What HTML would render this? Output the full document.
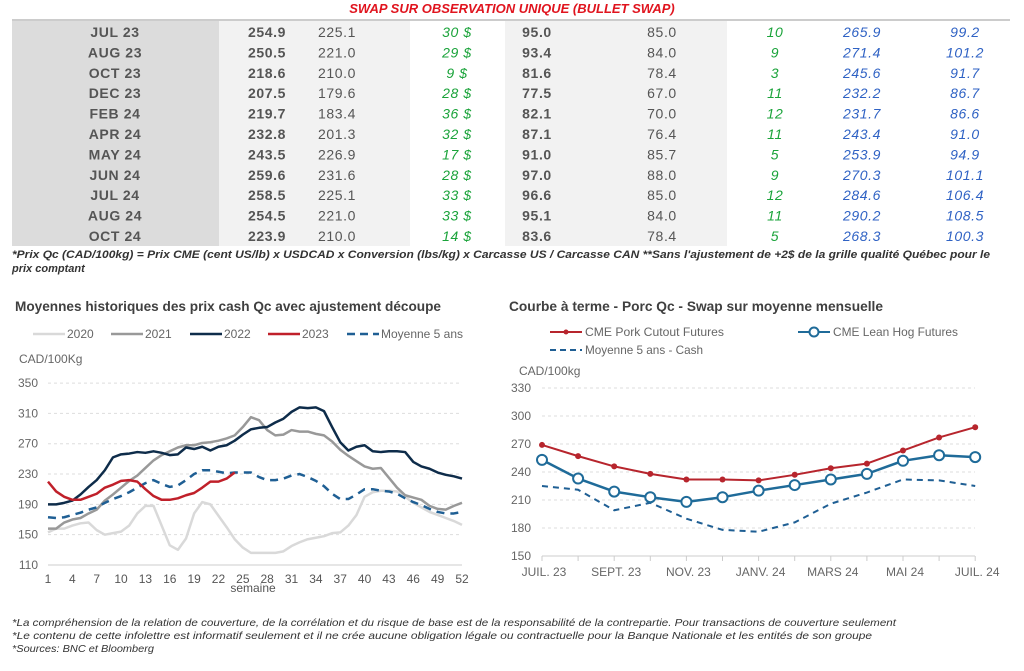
<!DOCTYPE html>
<html><head><meta charset="utf-8"><style>
html,body{margin:0;padding:0;background:#fff;}
svg{display:block;font-family:"Liberation Sans",sans-serif;}
</style></head><body>
<svg id="s" width="1024" height="671" viewBox="0 0 1024 671" xmlns="http://www.w3.org/2000/svg">
<text x="512" y="13" text-anchor="middle" fill="#e0141e" font-size="13" font-weight="bold" font-style="italic">SWAP SUR OBSERVATION UNIQUE (BULLET SWAP)</text>
<line x1="12" y1="20" x2="1010" y2="20" stroke="#bbb" stroke-width="1.5"/>
<rect x="12" y="21" width="207" height="225" fill="#dcdcdc"/>
<rect x="219" y="21" width="191" height="225" fill="#f2f2f2"/>
<rect x="505" y="21" width="222" height="225" fill="#f2f2f2"/>
<g id="tbl" font-size="14" letter-spacing="0.6"></g>
<text font-size="11" font-weight="bold" font-style="italic" fill="#333"><tspan x="12" y="258" textLength="978" lengthAdjust="spacingAndGlyphs">*Prix Qc (CAD/100kg) = Prix CME (cent US/lb) x USDCAD x Conversion (lbs/kg) x Carcasse US / Carcasse CAN **Sans l'ajustement de +2$ de la grille qualité Québec pour le</tspan><tspan x="12" y="272">prix comptant</tspan></text>

<text x="15" y="311" font-size="13.5" font-weight="bold" fill="#404040" textLength="426" lengthAdjust="spacingAndGlyphs">Moyennes historiques des prix cash Qc avec ajustement découpe</text>
<g font-size="12" fill="#666">
<line x1="33" y1="334" x2="65" y2="334" stroke="#d9d9d9" stroke-width="2.5"/><text x="67" y="338">2020</text>
<line x1="111" y1="334" x2="143" y2="334" stroke="#999" stroke-width="2.5"/><text x="145" y="338">2021</text>
<line x1="190" y1="334" x2="222" y2="334" stroke="#0e2c4a" stroke-width="2.5"/><text x="224" y="338">2022</text>
<line x1="268" y1="334" x2="300" y2="334" stroke="#c0202a" stroke-width="2.5"/><text x="302" y="338">2023</text>
<line x1="347" y1="334" x2="379" y2="334" stroke="#1f5f94" stroke-width="2.5" stroke-dasharray="8,5"/><text x="381" y="338" textLength="82" lengthAdjust="spacingAndGlyphs">Moyenne 5 ans</text>
<text x="19" y="363">CAD/100Kg</text>
</g>
<g id="lc"></g>

<text x="509" y="311" font-size="13.5" font-weight="bold" fill="#404040" textLength="374" lengthAdjust="spacingAndGlyphs">Courbe à terme - Porc Qc - Swap sur moyenne mensuelle</text>
<g font-size="12" fill="#666">
<line x1="550" y1="332" x2="582" y2="332" stroke="#b7252d" stroke-width="2"/><circle cx="566" cy="332" r="2.5" fill="#b7252d"/><text x="585" y="336" textLength="139" lengthAdjust="spacingAndGlyphs">CME Pork Cutout Futures</text>
<line x1="798" y1="332" x2="830" y2="332" stroke="#1f6b99" stroke-width="2"/><circle cx="814" cy="332" r="4.5" fill="#fff" stroke="#1f6b99" stroke-width="2"/><text x="833" y="336" textLength="125" lengthAdjust="spacingAndGlyphs">CME Lean Hog Futures</text>
<line x1="550" y1="350" x2="582" y2="350" stroke="#1f5f94" stroke-width="2" stroke-dasharray="6,4"/><text x="585" y="354" textLength="118" lengthAdjust="spacingAndGlyphs">Moyenne 5 ans - Cash</text>
<text x="519" y="375">CAD/100kg</text>
</g>
<g id="rc"></g>

<g font-size="10.5" font-style="italic" fill="#333">
<text x="12" y="626" textLength="884" lengthAdjust="spacingAndGlyphs">*La compréhension de la relation de couverture, de la corrélation et du risque de base est de la responsabilité de la contrepartie. Pour transactions de couverture seulement</text>
<text x="12" y="639" textLength="860" lengthAdjust="spacingAndGlyphs">*Le contenu de cette infolettre est informatif seulement et il ne crée aucune obligation légale ou contractuelle pour la Banque Nationale et les entités de son groupe</text>
<text x="12" y="652" textLength="142" lengthAdjust="spacingAndGlyphs">*Sources: BNC et Bloomberg</text>
</g>
</svg>
<script>
var NS="http://www.w3.org/2000/svg";
function el(p,t,a,txt){var e=document.createElementNS(NS,t);for(var k in a)e.setAttribute(k,a[k]);if(txt!=null)e.textContent=txt;p.appendChild(e);return e;}
var rows=[["JUL 23","254.9","225.1","30 $","95.0","85.0","10","265.9","99.2"],["AUG 23","250.5","221.0","29 $","93.4","84.0","9","271.4","101.2"],["OCT 23","218.6","210.0","9 $","81.6","78.4","3","245.6","91.7"],["DEC 23","207.5","179.6","28 $","77.5","67.0","11","232.2","86.7"],["FEB 24","219.7","183.4","36 $","82.1","70.0","12","231.7","86.6"],["APR 24","232.8","201.3","32 $","87.1","76.4","11","243.4","91.0"],["MAY 24","243.5","226.9","17 $","91.0","85.7","5","253.9","94.9"],["JUN 24","259.6","231.6","28 $","97.0","88.0","9","270.3","101.1"],["JUL 24","258.5","225.1","33 $","96.6","85.0","12","284.6","106.4"],["AUG 24","254.5","221.0","33 $","95.1","84.0","11","290.2","108.5"],["OCT 24","223.9","210.0","14 $","83.6","78.4","5","268.3","100.3"]];
var cx=[115,267,337,457,537,662,775,862,965];
var tb=document.getElementById("tbl");
rows.forEach(function(r,i){var y=37+i*20.4;r.forEach(function(c,j){var a={x:cx[j],y:y,"text-anchor":"middle"};
if(j==0){a.fill="#555";a["font-weight"]="bold";}else if(j==1||j==4){a.fill="#555";a["font-weight"]="bold";}else if(j==2||j==5){a.fill="#555";}else if(j==3||j==6){a.fill="#1aa33a";a["font-style"]="italic";}else{a.fill="#2f62c4";a["font-style"]="italic";}
el(tb,"text",a,c);});});
var lc=document.getElementById("lc");
function ly(v){return 565-(v-110)*0.758;}function lx(w){return 48+(w-1)*(414/51);}
[150,190,230,270,310,350].forEach(function(v){el(lc,"line",{x1:48,x2:462,y1:ly(v),y2:ly(v),stroke:"#ddd","stroke-dasharray":"3,3"});});
[110,150,190,230,270,310,350].forEach(function(v){el(lc,"text",{x:38,y:ly(v)+4,"text-anchor":"end","font-size":"12",fill:"#666"},v);});
el(lc,"line",{x1:48,x2:462,y1:565,y2:565,stroke:"#ccc"});
for(var w=1;w<=52;w+=3)el(lc,"text",{x:lx(w),y:583,"text-anchor":"middle","font-size":"12",fill:"#555"},w);
el(lc,"text",{x:253,y:592,"text-anchor":"middle","font-size":"12",fill:"#555"},"semaine");
var s20=[153,158,158,162,165,166,156,150,152,154,162,178,188,188,162,136,130,145,178,193,190,175,160,144,133,126,126,126,126,128,135,140,144,146,148,152,153,162,176,200,206,208,208,207,200,192,186,180,176,172,168,163];
var s21=[158,158,166,170,172,178,183,195,203,212,221,228,238,248,255,260,265,268,268,271,272,274,277,281,292,305,301,288,281,282,288,286,286,283,281,273,262,254,247,240,237,238,225,212,202,199,196,188,184,183,188,192];
var s22=[190,190,192,195,203,213,222,235,252,256,257,259,258,260,258,255,256,265,263,266,261,266,268,274,282,289,291,292,298,303,312,318,317,318,313,292,272,261,266,268,260,259,260,260,259,246,240,237,232,229,227,224];
var s23=[220,207,200,196,196,200,204,212,216,221,222,220,210,201,196,196,198,202,205,212,220,220,224,232];
var s5=[173,172,173,176,179,183,186,192,197,201,206,212,218,222,217,213,215,222,230,235,235,233,231,232,232,232,226,222,222,224,228,230,226,221,214,204,197,197,203,210,210,208,207,204,198,193,189,184,180,178,178,180];
function pl(p,arr,fx,fy,st){return el(p,"polyline",Object.assign({points:arr.map(function(v,i){return fx(i)+","+fy(v);}).join(" "),fill:"none","stroke-linejoin":"round"},st));}
var fx=function(i){return lx(i+1);};
pl(lc,s20,fx,ly,{stroke:"#d9d9d9","stroke-width":2.5});
pl(lc,s21,fx,ly,{stroke:"#999","stroke-width":2.5});
pl(lc,s5,fx,ly,{stroke:"#1f5f94","stroke-width":2.5,"stroke-dasharray":"8,6"});
pl(lc,s22,fx,ly,{stroke:"#0e2c4a","stroke-width":2.5});
pl(lc,s23,fx,ly,{stroke:"#c0202a","stroke-width":2.5});
var rc=document.getElementById("rc");
function ry(v){return 556-(v-150)*0.9333;}function rx(i){return 542+i*36.1;}
[180,210,240,270,300,330].forEach(function(v){el(rc,"line",{x1:542,x2:975,y1:ry(v),y2:ry(v),stroke:"#ddd","stroke-dasharray":"3,3"});});
[150,180,210,240,270,300,330].forEach(function(v){el(rc,"text",{x:531,y:ry(v)+4,"text-anchor":"end","font-size":"12",fill:"#666"},v);});
el(rc,"line",{x1:542,x2:975,y1:556,y2:556,stroke:"#ccc"});
for(var i=0;i<=12;i++)el(rc,"line",{x1:rx(i),x2:rx(i),y1:556,y2:561,stroke:"#ccc"});
["JUIL. 23","SEPT. 23","NOV. 23","JANV. 24","MARS 24","MAI 24","JUIL. 24"].forEach(function(t,k){el(rc,"text",{x:rx(k*2)+2,y:576,"text-anchor":"middle","font-size":"12",fill:"#666"},t);});
var red=[269,257,246,238,232,232,231,237,244,249,263,277,288],blue=[253,233,219,213,208,213,220,226,232,238,252,258,256],dash=[225,221,199,207,190,178,176,186,206,218,232,231,225];
el(rc,"path",{d:"M"+dash.map(function(v,i){return rx(i)+","+ry(v);}).join(" L"),fill:"none",stroke:"#1f5f94","stroke-width":2,"stroke-dasharray":"6,5"});
pl(rc,red,rx,ry,{stroke:"#b7252d","stroke-width":2});
red.forEach(function(v,i){el(rc,"circle",{cx:rx(i),cy:ry(v),r:3,fill:"#b7252d"});});
pl(rc,blue,rx,ry,{stroke:"#1f6b99","stroke-width":2.5});
blue.forEach(function(v,i){el(rc,"circle",{cx:rx(i),cy:ry(v),r:5,fill:"#fff",stroke:"#1f6b99","stroke-width":2});});
</script>
</body></html>
